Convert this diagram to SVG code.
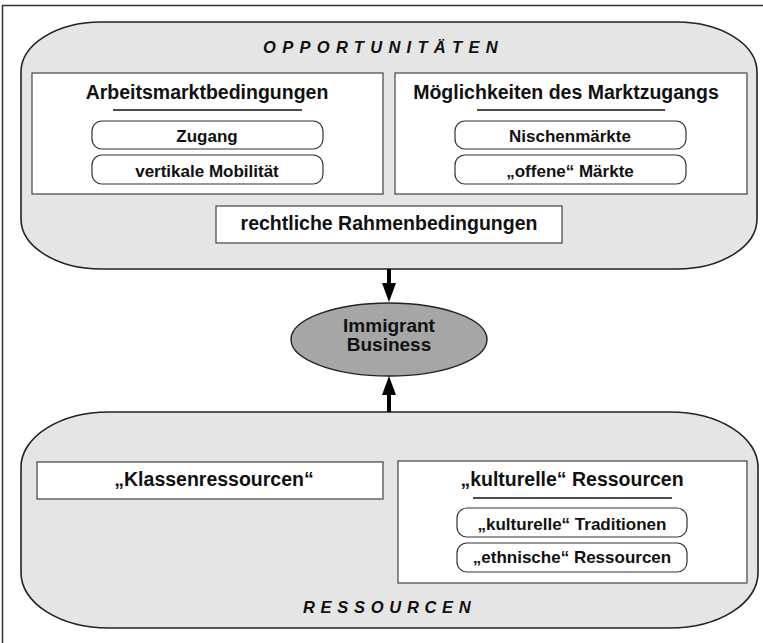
<svg xmlns="http://www.w3.org/2000/svg" width="763" height="643" viewBox="0 0 763 643">
<style>
.t{font-family:"Liberation Sans",Arial,sans-serif;font-weight:bold;fill:#111;}
.h{font-size:19.5px;text-anchor:middle;}
.p{font-size:17px;text-anchor:middle;}
.cap{font-size:16.5px;font-style:italic;letter-spacing:6.3px;}
.big{fill:#e5e5e5;stroke:#222;stroke-width:1.6;}
.box{fill:#fff;stroke:#444;stroke-width:1.2;}
.pill{fill:#fff;stroke:#333;stroke-width:1.2;}
.ul{stroke:#111;stroke-width:1.5;}
.con{stroke:#000;stroke-width:4;fill:none;}
</style>
<defs>
<marker id="ah" viewBox="0 0 19 14" refX="0" refY="7" markerWidth="19" markerHeight="14" markerUnits="userSpaceOnUse" orient="auto">
<path d="M0,0 L19,7 L0,14 z" fill="#000"/>
</marker>
</defs>
<rect width="763" height="643" fill="#fff"/>
<path d="M2.5,650 V5.5 H763" fill="none" stroke="#333" stroke-width="1.5"/>

<g id="opportunitaeten">
<rect class="big" x="21" y="22" width="736" height="247" rx="80" ry="50"/>
<text class="t cap" x="263" y="52.5">OPPORTUNITÄTEN</text>
</g>

<g id="arbeitsmarkt">
<rect class="box" x="32" y="73" width="351" height="121"/>
<text class="t h" x="207" y="99">Arbeitsmarktbedingungen</text>
<line class="ul" x1="113" y1="110" x2="302" y2="110"/>
</g>
<g id="zugang">
<rect class="pill" x="92" y="121" width="231" height="28" rx="10" ry="10"/>
<text class="t p" x="207" y="141.5">Zugang</text>
</g>
<g id="mobilitaet">
<rect class="pill" x="92" y="155" width="231" height="29" rx="10" ry="10"/>
<text class="t p" x="207" y="176.5">vertikale Mobilität</text>
</g>

<g id="marktzugang">
<rect class="box" x="395" y="73" width="352" height="121"/>
<text class="t h" x="566" y="99">Möglichkeiten des Marktzugangs</text>
<line class="ul" x1="477" y1="110" x2="665" y2="110"/>
</g>
<g id="nischen">
<rect class="pill" x="455" y="121" width="231" height="28" rx="10" ry="10"/>
<text class="t p" x="570" y="141.5">Nischenmärkte</text>
</g>
<g id="offene">
<rect class="pill" x="455" y="155" width="231" height="29" rx="10" ry="10"/>
<text class="t p" x="570" y="176.5">„offene“ Märkte</text>
</g>

<g id="rahmen">
<rect class="box" x="216" y="206" width="346" height="37"/>
<text class="t h" x="389" y="230">rechtliche Rahmenbedingungen</text>
</g>

<g id="immigrant">
<ellipse cx="389" cy="339.5" rx="98" ry="36.5" fill="#a6a6a6" stroke="#222" stroke-width="1.4"/>
<text class="t h" x="389" y="332" style="font-size:19px">Immigrant</text>
<text class="t h" x="389" y="351" style="font-size:19px">Business</text>
</g>

<g id="ressourcen">
<rect class="big" x="21" y="412" width="737" height="216" rx="88" ry="55"/>
<text class="t cap" x="303" y="612.5" style="letter-spacing:5.7px">RESSOURCEN</text>
</g>

<g id="klassen">
<rect class="box" x="37" y="462" width="346" height="37"/>
<text class="t h" x="214" y="486">„Klassenressourcen“</text>
</g>

<g id="kulturell">
<rect class="box" x="398" y="461" width="349" height="122"/>
<text class="t h" x="572" y="486">„kulturelle“ Ressourcen</text>
<line class="ul" x1="473" y1="498" x2="672" y2="498"/>
</g>
<g id="traditionen">
<rect class="pill" x="457" y="508" width="230" height="29" rx="10" ry="10"/>
<text class="t p" x="572" y="530">„kulturelle“ Traditionen</text>
</g>
<g id="ethnisch">
<rect class="pill" x="457" y="543" width="230" height="29" rx="10" ry="10"/>
<text class="t p" x="572" y="563">„ethnische“ Ressourcen</text>
</g>

<g id="connectors">
<path class="con" d="M389,269 V283" marker-end="url(#ah)"/>
<path class="con" d="M389,412 V395" marker-end="url(#ah)"/>
</g>
</svg>
